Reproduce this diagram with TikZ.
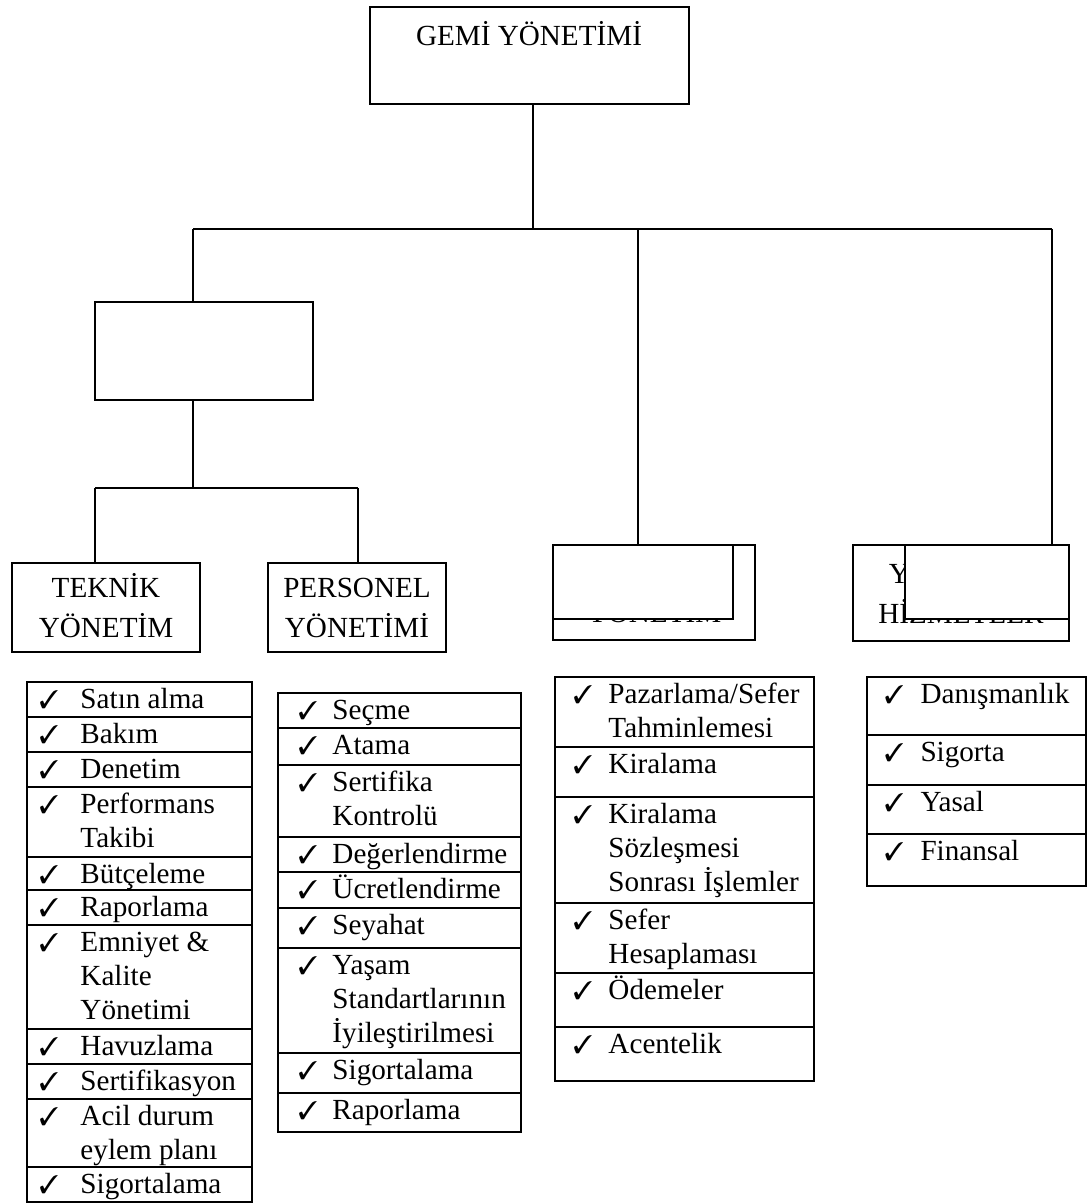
\documentclass[tikz,border=0pt]{standalone}
\usepackage{fontspec}
\setmainfont{Liberation Serif}
\usepackage{pifont}
\newcommand\pxu{0.4115pt}
\tikzset{
  cell/.style={draw, anchor=north west, inner sep=0pt, outer sep=0pt, line width=0.8pt},
  frontcell/.style={cell, fill=white},
  txt/.style={anchor=north west, inner sep=0pt, align=left, font=\fontsize{12}{14}\selectfont},
  lbl/.style={anchor=north, inner sep=0pt, align=center, font=\fontsize{12}{16.3}\selectfont},
  conn/.style={line width=0.8pt}
}
\newcommand\itm[8]{%
  \node[cell, minimum width=#4*\pxu, minimum height=#5*\pxu] (#1) at (#2,#3) {};
  \node[txt] (#1c) at (#6,#3) {\rule{0pt}{10.7pt}{\fontsize{10.5}{12}\selectfont\ding{51}}};
  \node[txt] (#1t) at (#7,#3) {\rule{0pt}{10.7pt}#8};
}
\begin{document}
\begin{tikzpicture}[x=0.4115pt, y=-0.4115pt]
\useasboundingbox (0,0) rectangle (1089,1204);

% top box
\node[cell, minimum width=319*\pxu, minimum height=97*\pxu] (root) at (370,7) {};
\node[lbl] (rootl) at (529,19) {\rule{0pt}{10.7pt}GEMİ YÖNETİMİ};

% empty middle box
\node[cell, minimum width=218*\pxu, minimum height=98*\pxu] (mid) at (95,302) {};

% second level boxes
\node[cell, minimum width=188*\pxu, minimum height=89*\pxu] (tek) at (12,563) {};
\node[lbl] (tekl) at (106,571) {\rule{0pt}{10.7pt}TEKNİK\\YÖNETİM};
\node[cell, minimum width=178*\pxu, minimum height=89*\pxu] (per) at (268,563) {};
\node[lbl] (perl) at (357,571) {\rule{0pt}{10.7pt}PERSONEL\\YÖNETİMİ};

% overlapping boxes (middle)
\node[cell, minimum width=202*\pxu, minimum height=95*\pxu] (tcb) at (553,545) {};
\node[anchor=base, inner sep=0pt, font=\fontsize{12}{14}\selectfont] (tcl) at (654,622) {YÖNETİM};
\node[frontcell, minimum width=180*\pxu, minimum height=74*\pxu] (tcf) at (553,545) {};

% overlapping boxes (right)
\node[cell, minimum width=216*\pxu, minimum height=96*\pxu] (yrb) at (853,545) {};
\node[lbl] (yrl) at (961,557) {\rule{0pt}{10.7pt}YARDIMCI\\HİZMETLER};
\node[frontcell, minimum width=164*\pxu, minimum height=74*\pxu] (yrf) at (905,545) {};

% connectors
\coordinate (hl) at (193,229);
\coordinate (hr) at (1052,229);
\coordinate (rj) at (533,229);
\coordinate (tj) at (638,229);
\coordinate (m2) at (193,488);
\coordinate (ml) at (95,488);
\coordinate (mr) at (358,488);
\draw[conn] (rj |- root.south) -- (rj);
\draw[conn] (hl) -- (hr);
\draw[conn] (hl) -- (hl |- mid.north);
\draw[conn] (tj) -- (tj |- tcf.north);
\draw[conn] (hr) -- (hr |- yrf.north);
\draw[conn] (m2 |- mid.south) -- (m2);
\draw[conn] (ml) -- (mr);
\draw[conn] (ml) -- (ml |- tek.north);
\draw[conn] (mr) -- (mr |- per.north);

% TEKNIK list
\itm{tk1}{27}{682}{225}{35}{39}{80}{Satın alma}
\itm{tk2}{27}{717}{225}{35}{39}{80}{Bakım}
\itm{tk3}{27}{752}{225}{35}{39}{80}{Denetim}
\itm{tk4}{27}{787}{225}{70}{39}{80}{Performans\\Takibi}
\itm{tk5}{27}{857}{225}{33}{39}{80}{Bütçeleme}
\itm{tk6}{27}{890}{225}{35}{39}{80}{Raporlama}
\itm{tk7}{27}{925}{225}{104}{39}{80}{Emniyet \&\\Kalite\\Yönetimi}
\itm{tk8}{27}{1029}{225}{35}{39}{80}{Havuzlama}
\itm{tk9}{27}{1064}{225}{35}{39}{80}{Sertifikasyon}
\itm{tk10}{27}{1099}{225}{68}{39}{80}{Acil durum\\eylem planı}
\itm{tk11}{27}{1167}{225}{35}{39}{80}{Sigortalama}

% PERSONEL list
\itm{ps1}{278}{693}{243}{35}{298}{332}{Seçme}
\itm{ps2}{278}{728}{243}{37}{298}{332}{Atama}
\itm{ps3}{278}{765}{243}{72}{298}{332}{Sertifika\\Kontrolü}
\itm{ps4}{278}{837}{243}{35}{298}{332}{Değerlendirme}
\itm{ps5}{278}{872}{243}{36}{298}{332}{Ücretlendirme}
\itm{ps6}{278}{908}{243}{40}{298}{332}{Seyahat}
\itm{ps7}{278}{948}{243}{105}{298}{332}{Yaşam\\Standartlarının\\İyileştirilmesi}
\itm{ps8}{278}{1053}{243}{40}{298}{332}{Sigortalama}
\itm{ps9}{278}{1093}{243}{39}{298}{332}{Raporlama}

% third list
\itm{tc1}{555}{677}{259}{70}{573}{608}{Pazarlama/Sefer\\Tahminlemesi}
\itm{tc2}{555}{747}{259}{50}{573}{608}{Kiralama}
\itm{tc3}{555}{797}{259}{106}{573}{608}{Kiralama\\Sözleşmesi\\Sonrası İşlemler}
\itm{tc4}{555}{903}{259}{70}{573}{608}{Sefer\\Hesaplaması}
\itm{tc5}{555}{973}{259}{54}{573}{608}{Ödemeler}
\itm{tc6}{555}{1027}{259}{54}{573}{608}{Acentelik}

% fourth list
\itm{fr1}{867}{677}{219}{58}{884}{920}{Danışmanlık}
\itm{fr2}{867}{735}{219}{50}{884}{920}{Sigorta}
\itm{fr3}{867}{785}{219}{49}{884}{920}{Yasal}
\itm{fr4}{867}{834}{219}{52}{884}{920}{Finansal}
\end{tikzpicture}
\end{document}
